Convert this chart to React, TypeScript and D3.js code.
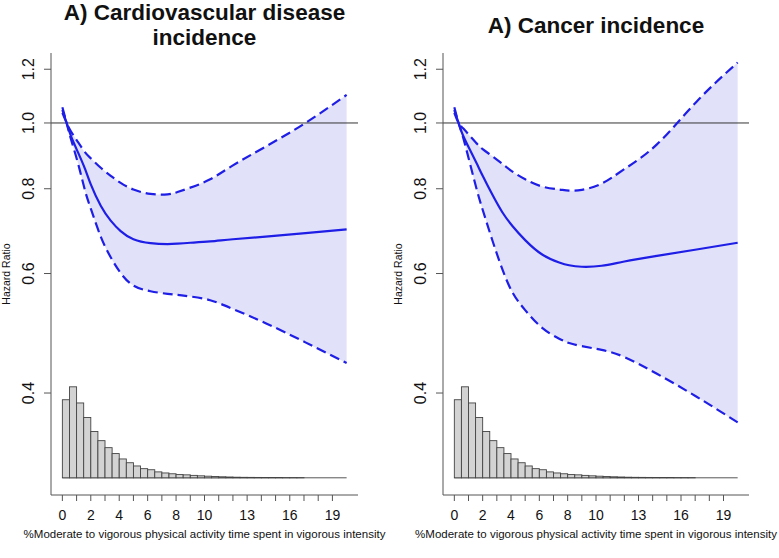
import React from "react";
import * as d3 from "d3";

// ---- data ----
const xGrid = [0, 0.3, 0.6, 1.1, 1.6, 2.0, 2.7, 3.4, 4.1, 5.0, 6.2, 7.4, 8.1, 9.0, 10.4, 12.0, 14.3, 17.1, 20];

const cvdFit = [1.045, 1.0, 0.957, 0.905, 0.855, 0.812, 0.755, 0.718, 0.693, 0.674, 0.665, 0.663, 0.664, 0.666, 0.669, 0.674, 0.680, 0.688, 0.697];
const cvdUpper = [1.035, 1.0, 0.972, 0.937, 0.905, 0.887, 0.859, 0.836, 0.816, 0.798, 0.786, 0.785, 0.791, 0.803, 0.826, 0.866, 0.923, 1.0, 1.10];
const cvdLower = [1.055, 1.0, 0.947, 0.872, 0.794, 0.748, 0.68, 0.634, 0.601, 0.576, 0.565, 0.560, 0.558, 0.555, 0.548, 0.532, 0.507, 0.475, 0.443];

const canFit = [1.045, 1.0, 0.96, 0.913, 0.87, 0.836, 0.783, 0.738, 0.705, 0.672, 0.640, 0.623, 0.617, 0.614, 0.616, 0.625, 0.637, 0.651, 0.666];
const canUpper = [1.035, 1.0, 0.983, 0.957, 0.932, 0.915, 0.893, 0.870, 0.848, 0.826, 0.806, 0.798, 0.795, 0.797, 0.814, 0.855, 0.93, 1.075, 1.228];
const canLower = [1.055, 1.0, 0.955, 0.872, 0.795, 0.745, 0.670, 0.608, 0.563, 0.530, 0.499, 0.481, 0.474, 0.469, 0.463, 0.452, 0.427, 0.395, 0.362];

// histogram: % of participants per 0.5-unit bin, 0..20
const histPct = [14.5, 16.9, 13.9, 11.2, 8.6, 6.9, 5.6, 4.5, 3.5, 2.8, 2.2, 1.7, 1.5, 1.1, 0.9, 0.75, 0.6, 0.55, 0.45, 0.37, 0.3, 0.24, 0.19, 0.15, 0.11, 0.09, 0.08, 0.07, 0.06, 0.05, 0.05, 0.04, 0.04, 0.03, 0, 0, 0, 0, 0, 0];
const binWidth = 0.5;

const yTicks = [0.4, 0.6, 0.8, 1.0, 1.2];
const yTickLabels = ["0.4", "0.6", "0.8", "1.0", "1.2"];
const xTicks = d3.range(0, 20);
const xTickLabels = [0, 2, 4, 6, 8, 10, 13, 16, 19];

const xTitle = "%Moderate to vigorous physical activity time spent in vigorous intensity";
const yTitle = "Hazard Ratio";

const FONT = "'Liberation Sans', Arial, Helvetica, sans-serif";
const BLUE = "#1e1ee6";

type PanelProps = {
  left: number;
  right: number;
  titleLines: string[];
  fit: number[];
  upper: number[];
  lower: number[];
};

function Panel({ left, right, titleLines, fit, upper, lower }: PanelProps) {
  const top = 53;
  const bottom = 495;
  const x = d3.scaleLinear().domain([-0.8, 20.8]).range([left, right]);
  const y = d3.scaleLog().domain([0.283, 1.268]).range([bottom, top]);
  const base = y(0.3);
  const h = d3.scaleLinear().domain([0, 16.9]).range([base, base - 91]);

  const idx = xGrid.map((_, i) => i);
  const curve = d3.curveNatural;
  const line = (vals: number[]) =>
    d3.line<number>().x((i) => x(xGrid[i])).y((i) => y(vals[i])).curve(curve)(idx) || "";
  const upperPath = line(upper);
  const lowerPts = idx.map((i) => [x(xGrid[i]), y(lower[i])] as [number, number]);
  const upperPts = idx.map((i) => [x(xGrid[i]), y(upper[i])] as [number, number]);
  const lowerRev = d3.line().curve(curve)(lowerPts.slice().reverse()) || "";
  const area = (d3.line().curve(curve)(upperPts) || "") + "L" + lowerRev.slice(1) + "Z";

  const cx = (left + right) / 2;
  const titleY = titleLines.length === 1 ? [33] : [20, 45];

  return (
    <g>
      {titleLines.map((t, i) => (
        <text
          key={i}
          x={cx}
          y={titleY[i]}
          textAnchor="middle"
          fontFamily={FONT}
          fontWeight="bold"
          fontSize={22.5}
          fill="#111"
        >
          {t}
        </text>
      ))}
      {/* confidence band */}
      <path d={area} fill="#e1e1fa" stroke="none" />
      {/* histogram */}
      <line x1={x(0)} x2={x(histPct.length * binWidth)} y1={base} y2={base} stroke="#444" strokeWidth={0.9} />
      {histPct.map((p, i) =>
        p > 0 ? (
          <rect
            key={i}
            x={x(i * binWidth)}
            y={h(p)}
            width={x((i + 1) * binWidth) - x(i * binWidth)}
            height={base - h(p)}
            fill="#d3d3d3"
            stroke="#444"
            strokeWidth={0.9}
          />
        ) : null
      )}
      {/* reference line */}
      <line x1={left} x2={right} y1={y(1)} y2={y(1)} stroke="#333" strokeWidth={1} />
      {/* curves */}
      <path d={upperPath} fill="none" stroke={BLUE} strokeWidth={2.2} strokeDasharray="10,5" />
      <path d={line(lower)} fill="none" stroke={BLUE} strokeWidth={2.2} strokeDasharray="10,5" />
      <path d={line(fit)} fill="none" stroke={BLUE} strokeWidth={2.2} />
      {/* L box */}
      <path d={`M${left},${top}V${bottom}H${right}`} fill="none" stroke="#555" strokeWidth={1} />
      {/* y ticks */}
      {yTicks.map((t, i) => (
        <g key={t}>
          <line x1={left - 7} x2={left} y1={y(t)} y2={y(t)} stroke="#555" />
          <text
            transform={`translate(${left - 17},${y(t)}) rotate(-90)`}
            textAnchor="middle"
            fontFamily={FONT}
            fontSize={16}
            fill="#111"
          >
            {yTickLabels[i]}
          </text>
        </g>
      ))}
      <text
        transform={`translate(${left - 41},${(top + bottom) / 2}) rotate(-90)`}
        textAnchor="middle"
        fontFamily={FONT}
        fontSize={10.5}
        fill="#111"
      >
        {yTitle}
      </text>
      {/* x ticks */}
      {xTicks.map((t) => (
        <line key={t} x1={x(t)} x2={x(t)} y1={bottom} y2={bottom + 6} stroke="#555" />
      ))}
      {xTickLabels.map((t) => (
        <text
          key={t}
          x={x(t)}
          y={520}
          textAnchor="middle"
          fontFamily={FONT}
          fontSize={14}
          fill="#111"
        >
          {t}
        </text>
      ))}
      <text x={cx} y={538} textAnchor="middle" fontFamily={FONT} fontSize={11.5} fill="#111">
        {xTitle}
      </text>
    </g>
  );
}

export default function App() {
  return (
    <svg
      width={779}
      height={558}
      style={{ position: "absolute", left: 0, top: 0, background: "#fff" }}
    >
      <rect width={779} height={558} fill="#fff" />
      <Panel
        left={51}
        right={358}
        titleLines={["A) Cardiovascular disease", "incidence"]}
        fit={cvdFit}
        upper={cvdUpper}
        lower={cvdLower}
      />
      <Panel
        left={443}
        right={749}
        titleLines={["A) Cancer incidence"]}
        fit={canFit}
        upper={canUpper}
        lower={canLower}
      />
    </svg>
  );
}
